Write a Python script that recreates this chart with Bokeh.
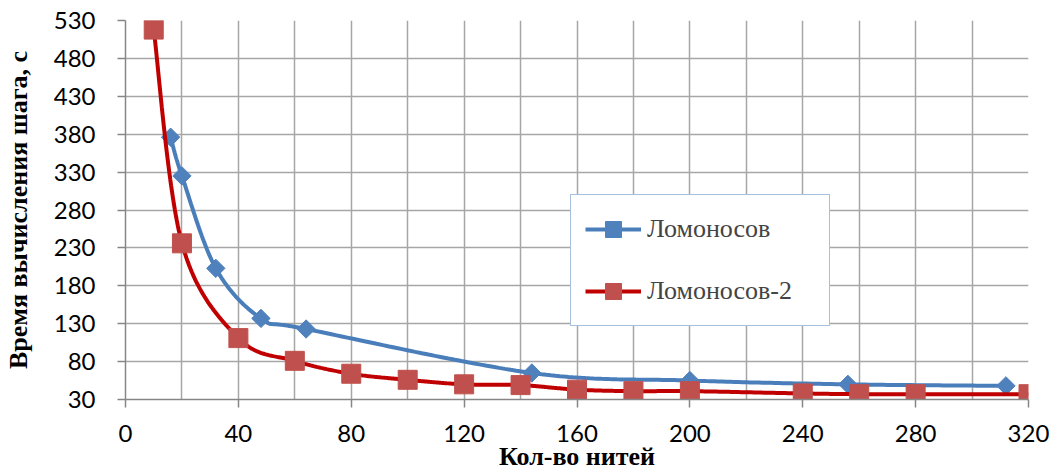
import numpy as np
from bokeh.plotting import figure
from bokeh.models import Legend, LegendItem, FixedTicker, Range1d
from bokeh.embed import file_html
from bokeh.resources import INLINE

# ---- data ----
lom_x = [16, 20, 32, 48, 64, 144, 200, 256, 312]
lom_y = [376, 325, 203, 137, 123, 65, 55, 50, 48]
lom2_x = [10, 20, 40, 60, 80, 100, 120, 140, 160, 180, 200, 240, 260, 280, 320]
lom2_y = [518, 236, 111, 81, 64, 56, 50, 49, 43, 41, 41, 38, 37, 37, 37]
series_names = ["Ломоносов", "Ломоносов-2"]
x_ticks = [0, 40, 80, 120, 160, 200, 240, 280, 320]
x_grid_ticks = list(range(0, 321, 20))
y_ticks = [30, 80, 130, 180, 230, 280, 330, 380, 430, 480, 530]
x_title = "Кол-во нитей"
y_title = "Время вычисления шага, с"


def smooth(xs, ys, n=40):
    """Excel-like smoothed line (Catmull-Rom Bezier) through the data points."""
    pts = np.column_stack([xs, ys]).astype(float)
    P = np.vstack([pts[0], pts, pts[-1]])
    t = np.linspace(0, 1, n)[:, None]
    out = []
    for i in range(1, len(P) - 2):
        p0, p1, p2, p3 = P[i - 1], P[i], P[i + 1], P[i + 2]
        c1 = p1 + (p2 - p0) / 6.0
        c2 = p2 - (p3 - p1) / 6.0
        b = (1 - t) ** 3 * p1 + 3 * (1 - t) ** 2 * t * c1 + 3 * (1 - t) * t ** 2 * c2 + t ** 3 * p2
        out.append(b if i == 1 else b[1:])
    s = np.vstack(out)
    return s[:, 0], s[:, 1]


BLUE_LINE = "#4A7EBB"
BLUE_MARK = "#4F81BD"
RED_LINE = "#C00000"
RED_MARK = "#C0504D"
GRID = "#A6A6A6"
AXIS = "#868686"

p = figure(
    width=1053, height=473,
    min_border_left=122, min_border_right=25, min_border_top=20, min_border_bottom=73,
    x_range=Range1d(x_ticks[0], x_ticks[-1]), y_range=Range1d(y_ticks[0], y_ticks[-1]),
    output_backend="svg", toolbar_location=None,
)
p.background_fill_color = "white"
p.border_fill_color = "white"
p.outline_line_color = None

# grid
p.xgrid.ticker = FixedTicker(ticks=x_grid_ticks)
p.ygrid.ticker = FixedTicker(ticks=y_ticks)
for g in (p.xgrid[0], p.ygrid[0]):
    g.grid_line_color = GRID
    g.grid_line_width = 1.5

# axes
p.xaxis.ticker = FixedTicker(ticks=x_ticks)
p.yaxis.ticker = FixedTicker(ticks=y_ticks)
for ax in (p.xaxis[0], p.yaxis[0]):
    ax.axis_line_color = AXIS
    ax.axis_line_width = 1.5
    ax.major_tick_line_color = AXIS
    ax.major_tick_line_width = 1.5
    ax.major_tick_out = 8
    ax.major_tick_in = 0
    ax.minor_tick_line_color = None
    ax.major_label_text_font = "Lato"
    ax.major_label_text_font_size = "24px"
    ax.major_label_text_color = "black"
    ax.axis_label_text_font = "Liberation Serif"
    ax.axis_label_text_font_style = "bold"
    ax.axis_label_text_font_size = "26px"
    ax.axis_label_text_color = "black"
p.xaxis.major_label_standoff = 17
p.yaxis.major_label_standoff = 22
p.xaxis.axis_label = x_title
p.yaxis.axis_label = y_title
p.xaxis.axis_label_standoff = -3
p.yaxis.axis_label_standoff = 18

# series
bx, by = smooth(lom_x, lom_y)
rx, ry = smooth(lom2_x, lom2_y)
bl = p.line(bx, by, line_color=BLUE_LINE, line_width=4)
bm = p.scatter(lom_x, lom_y, marker="square", angle=np.pi / 4, size=13,
               fill_color=BLUE_MARK, line_color=BLUE_MARK)
rl = p.line(rx, ry, line_color=RED_LINE, line_width=4)
rm = p.scatter(lom2_x, lom2_y, marker="square", size=19,
               fill_color=RED_MARK, line_color=RED_MARK)

legend = Legend(
    items=[LegendItem(label=series_names[0], renderers=[bl, bm]),
           LegendItem(label=series_names[1], renderers=[rl, rm])],
    location=(445, 73), margin=0, padding=14, spacing=22,
    glyph_width=56, glyph_height=40, label_standoff=6, label_width=168,
    label_text_font="Liberation Serif", label_text_font_size="26px",
    border_line_color=BLUE_MARK, border_line_width=1.5,
    background_fill_color="white", background_fill_alpha=1.0,
)
p.add_layout(legend, "center")

open("out.html", "w").write(file_html(p, INLINE))
